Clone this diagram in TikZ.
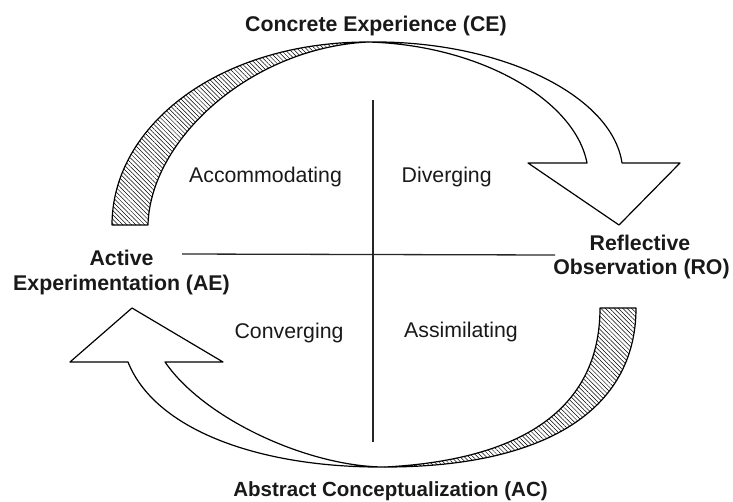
\documentclass[tikz,border=0pt]{standalone}
\usepackage{fontspec}
\setmainfont{Liberation Sans}
\usetikzlibrary{patterns.meta}
\begin{document}
\begin{tikzpicture}[x=1pt,y=-1pt,
  band/.style={draw=black, line width=1.2pt, line join=round},
  hatch/.style={band, pattern={Lines[angle=-45,distance=3.1pt,line width=0.5pt]}},
  front/.style={band, fill=white},
  axis/.style={draw=black!85, line width=1.3pt},
  stage/.style={font=\fontsize{21.3}{24}\selectfont\bfseries, anchor=base, inner sep=0pt, text=black!90},
  quad/.style={font=\fontsize{21.3}{24}\selectfont, anchor=base, inner sep=0pt, text=black!90}
]
\useasboundingbox (0,0) rectangle (733,501);
% axes
\coordinate (vt) at (373,100);
\coordinate (vb) at (373,442);
\coordinate (hl) at (182,254);
\coordinate (hr) at (555,255);
\draw[axis] (vt) -- (vb);
\draw[axis] (hl) -- (hr);
% top curved arrow: hatched back part
\path[hatch] (112,225) .. controls (112,125) and (220,42) .. (368,42)
  .. controls (250,48) and (150,140) .. (148,225) -- cycle;
% top curved arrow: white front part with head
\path[front] (368,42) .. controls (500,40) and (612,95) .. (622,163)
  -- (680,163) -- (619,225) -- (528,163) -- (587,163)
  .. controls (575,100) and (480,45) .. (368,42) -- cycle;
% bottom curved arrow: hatched back part
\path[hatch] (636,308) .. controls (636,410) and (545,467) .. (385,467)
  .. controls (520,460) and (600,410) .. (600,308) -- cycle;
% bottom curved arrow: white front part with head
\path[front] (385,467) .. controls (260,468) and (155,430) .. (128,362)
  -- (70,362) -- (132,308) -- (223,362) -- (165,362)
  .. controls (205,420) and (310,467) .. (385,467) -- cycle;
% labels
\node[stage] (ce) at (376,31) {Concrete Experience (CE)};
\node[stage] (ae1) at (121.5,265.7) {Active};
\node[stage] (ae2) at (121.5,290.3) {Experimentation (AE)};
\node[stage] (ro1) at (640,250.7) {Reflective};
\node[stage] (ro2) at (641.5,274.3) {Observation (RO)};
\node[stage, font=\fontsize{20.5}{24}\selectfont\bfseries] (ac) at (390.5,496) {Abstract Conceptualization (AC)};
\node[quad] (acc) at (265.5,182) {Accommodating};
\node[quad] (dvg) at (446.7,182) {Diverging};
\node[quad] (cvg) at (289,338) {Converging};
\node[quad] (asm) at (461,337) {Assimilating};
\end{tikzpicture}
\end{document}
